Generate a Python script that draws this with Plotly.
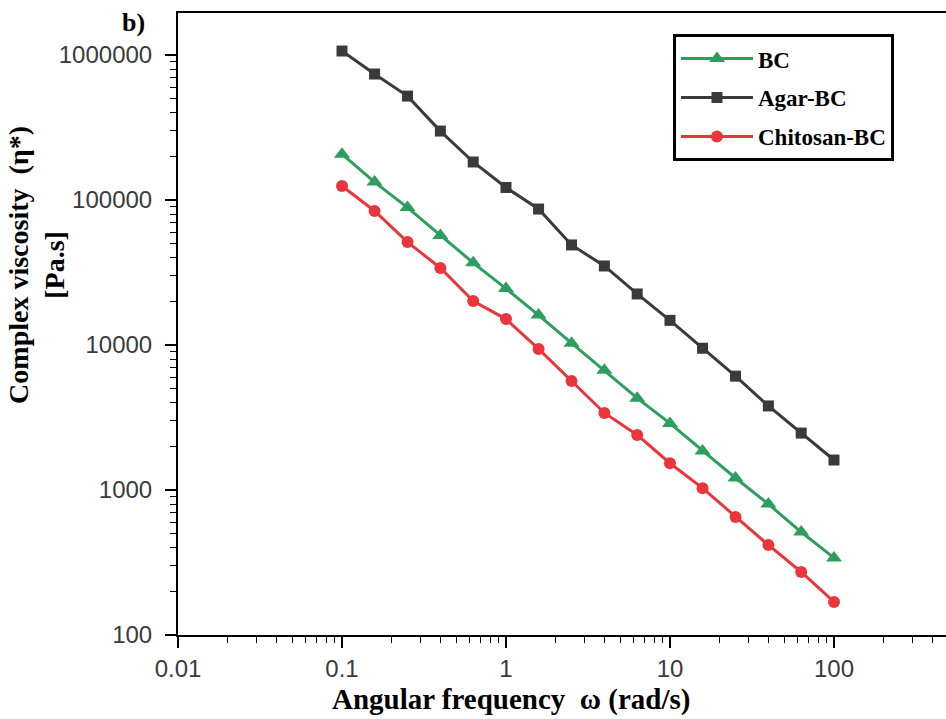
import plotly.graph_objects as go

# Angular frequency sweep (rad/s), five points per decade
omega = [0.1, 0.158, 0.251, 0.398, 0.631, 1.0, 1.58, 2.51, 3.98, 6.31,
         10.0, 15.8, 25.1, 39.8, 63.1, 100.0]

# Complex viscosity |eta*| in Pa.s
eta_bc = [207000, 133000, 88700, 56900, 36900, 24500, 16100, 10300, 6700, 4300,
          2880, 1860, 1210, 800, 513, 340]
eta_agar = [1066000, 740000, 521000, 299000, 183000, 122000, 86700, 49000, 35100, 22500,
            14800, 9500, 6100, 3800, 2470, 1610]
eta_chitosan = [125000, 84000, 51300, 34000, 20100, 15100, 9400, 5650, 3400, 2400,
                1530, 1030, 651, 418, 272, 169]

series_names = ["BC", "Agar-BC", "Chitosan-BC"]

x_tickvals = [0.01, 0.1, 1, 10, 100, 1000]
x_ticktext = ["0.01", "0.1", "1", "10", "100", "1000"]
y_tickvals = [100, 1000, 10000, 100000, 1000000]
y_ticktext = ["100", "1000", "10000", "100000", "1000000"]

SERIF = "Liberation Serif, Times New Roman, serif"
SANS = "Liberation Sans, Arial, sans-serif"

fig = go.Figure()

styles = [
    (eta_bc, "#2E9E5E", "triangle-up", 14),
    (eta_agar, "#3A3A3A", "square", 11),
    (eta_chitosan, "#E8363C", "circle", 12),
]
for i, (name, (vals, color, symbol, size)) in enumerate(zip(series_names, styles)):
    fig.add_trace(go.Scatter(
        x=omega, y=vals, name=name, mode="lines+markers",
        line=dict(color=color, width=3),
        marker=dict(symbol=symbol, size=size, color=color),
        legendgroup=f"g{i}",
    ))

axis_common = dict(
    showline=True, linecolor="black", linewidth=2,
    showgrid=False, zeroline=False,
    ticks="outside", ticklen=11, tickwidth=1.5, tickcolor="black",
    tickfont=dict(family=SANS, size=24, color="#3a3a3a"),
)

fig.update_xaxes(
    type="log", range=[-2, 2.683],
    tickvals=x_tickvals, ticktext=x_ticktext,
    mirror=True,
    minor=dict(ticks="outside", ticklen=6, tickwidth=1.2, tickcolor="black", dtick="D1"),
    **axis_common,
)
fig.update_yaxes(
    type="log", range=[2, 6.29],
    tickvals=y_tickvals, ticktext=y_ticktext,
    ticklabelstandoff=8,
    minor=dict(ticks="outside", ticklen=6, tickwidth=1.2, tickcolor="black", dtick="D1"),
    **axis_common,
)

# Axis titles, placed as annotations
fig.add_annotation(
    text="Angular frequency  \u03c9 (rad/s)",
    xref="paper", yref="paper", x=0.4336, y=-0.104,
    xanchor="center", yanchor="middle", showarrow=False,
    font=dict(family=SERIF, size=29, color="black", weight="bold"),
)
fig.add_annotation(
    text="Complex viscosity  (\u03b7*)<br>[Pa.s]",
    xref="paper", yref="paper", x=-0.1836, y=0.595,
    xanchor="center", yanchor="middle", textangle=-90, showarrow=False,
    font=dict(family=SERIF, size=28, color="black", weight="bold"),
)
fig.add_annotation(
    text="b)", xref="paper", yref="paper", x=-0.058, y=0.9855,
    xanchor="center", yanchor="middle", showarrow=False,
    font=dict(family=SERIF, size=26, color="black", weight="bold"),
)

fig.update_layout(
    width=946, height=719,
    margin=dict(l=178, r=0, t=13, b=84),
    paper_bgcolor="white", plot_bgcolor="white",
    font=dict(family=SERIF, color="black"),
    legend=dict(
        x=0.6445, y=0.966, xanchor="left", yanchor="top",
        bgcolor="white", bordercolor="black", borderwidth=3,
        font=dict(family=SERIF, size=23, color="black", weight="bold"),
        itemwidth=72, tracegroupgap=6, traceorder="grouped",
    ),
    showlegend=True,
)

fig.write_html("out.html")
